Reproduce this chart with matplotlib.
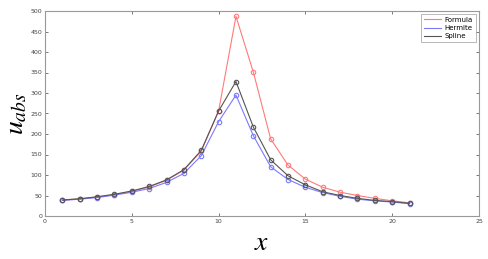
import matplotlib
matplotlib.use("Agg")
import matplotlib.pyplot as plt

x = list(range(1, 22))
formula = [39, 42, 46, 52, 60, 71, 87, 112, 158, 256, 487, 351, 188, 124, 90, 70, 58, 50, 43, 37, 32]
hermite = [38, 41, 45, 51, 58, 67, 82, 104, 147, 230, 295, 196, 120, 89, 70, 57, 48, 41, 37, 34, 30]
spline = [39, 42, 47, 53, 61, 72, 88, 113, 160, 256, 328, 217, 137, 98, 76, 59, 50, 43, 38, 35, 31]
labels = ["Formula", "Hermite", "Spline"]

plt.rcParams['mathtext.fontset'] = 'stix'
fig = plt.figure(figsize=(4.88, 2.59), dpi=100)
ax = fig.add_axes([45/488, 1 - 216/259, (479-45)/488, (216-11)/259])

cols = ['#ff7a7a', '#7a7aff', '#555555']
for ys, c, lab in zip([formula, hermite, spline], cols, labels):
    ax.plot(x, ys, color=c, lw=0.8, label=lab, marker='o', ms=3.2,
            mfc='none', mec=c, mew=0.8)

ax.set_xlim(0, 25)
ax.set_ylim(0, 500)
ax.set_xticks(range(0, 26, 5))
ax.set_yticks(range(0, 501, 50))
ax.tick_params(direction='in', length=2, width=0.5, labelsize=4.5,
               colors='#444444', top=True, right=True, pad=2)
for s in ax.spines.values():
    s.set_color('#999999')
    s.set_linewidth(0.8)

ax.set_xlabel(r'$x$', fontsize=20, va='center')
ax.xaxis.set_label_coords(0.5, -0.125)
ax.set_ylabel(r'$u_{abs}$', fontsize=20, va='center')
ax.yaxis.set_label_coords(-0.068, 0.5)

leg = ax.legend(loc='upper right', fontsize=5, frameon=True, fancybox=False,
                edgecolor='#999999', handlelength=2.4, borderpad=0.45,
                labelspacing=0.3, handletextpad=0.6, borderaxespad=0.4)
leg.get_frame().set_linewidth(0.6)
for l in leg.get_lines():
    l.set_marker('')

fig.savefig('out.png', dpi=100, facecolor='white')
